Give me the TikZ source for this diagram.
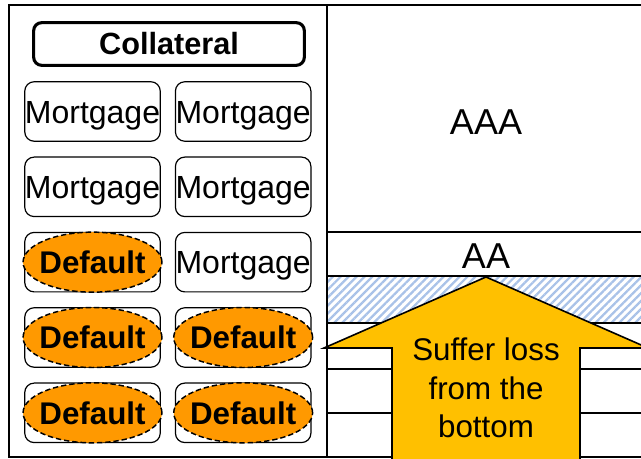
\documentclass[tikz,border=0pt]{standalone}
\usepackage{fontspec}
\setmainfont{Liberation Sans}
\usetikzlibrary{positioning,shapes.geometric,patterns.meta}

\definecolor{defaultorange}{HTML}{FF9900}
\definecolor{arrowgold}{HTML}{FFC000}
\definecolor{hatchblue}{HTML}{A9C2E8}

\begin{document}
\begin{tikzpicture}[x=0.75pt, y=0.75pt, node distance=11pt and 10.5pt,
  mort/.style={draw, line width=0.9pt, rounded corners=7pt, minimum width=101.6pt,
    minimum height=44.6pt, inner sep=0pt, text height=22.4pt, text depth=5pt,
    font=\fontsize{24}{28}\selectfont},
  loan/.style={draw, line width=0.9pt, rounded corners=7pt, minimum width=101.6pt,
    minimum height=44.6pt, inner sep=0pt},
  dflt/.style={ellipse, draw, dash pattern=on 4pt off 2.2pt, line width=1.1pt,
    fill=defaultorange, minimum width=102.5pt, minimum height=45pt,
    inner xsep=-3pt, inner ysep=0pt, font=\bfseries\fontsize{23.5}{28}\selectfont},
  tranche/.style={font=\fontsize{27}{32}\selectfont}]
  \useasboundingbox (0,0) rectangle (641,459);
  \clip (0,0) rectangle (641,459);

  % collateral pool
  \draw[line width=1.1pt] (9,2) rectangle (327,454);
  \node[draw, line width=2.3pt, rounded corners=6pt, minimum width=203pt,
    minimum height=32pt, font=\bfseries\fontsize{23}{28}\selectfont] (coll)
    at (169,415) {Collateral};
  \node[mort] (m11) at (92.5,347.5) {Mortgage};
  \node[mort, right=of m11] (m12) {Mortgage};
  \node[mort, below=of m11] (m21) {Mortgage};
  \node[mort, below=of m12] (m22) {Mortgage};
  \node[loan, below=of m21] (m31) {};
  \node[mort, below=of m22] (m32) {Mortgage};
  \node[loan, below=of m31] (m41) {};
  \node[loan, below=of m32] (m42) {};
  \node[loan, below=of m41] (m51) {};
  \node[loan, below=of m42] (m52) {};
  % defaulted loans
  \node[dflt] (d31) at (m31) {Default};
  \node[dflt] (d41) at (m41) {Default};
  \node[dflt] (d42) at (m42) {Default};
  \node[dflt] (d51) at (m51) {Default};
  \node[dflt] (d52) at (m52) {Default};

  % tranches
  \fill[pattern={Lines[angle=45,distance=4.2pt,line width=1.7pt]},
    pattern color=hatchblue] (327,136) rectangle (641,183);
  \draw[line width=1.4pt] (327,454) -- (641,454) (327,2) -- (327,454)
    (327,227) -- (641,227) (327,183) -- (641,183) (327,136) -- (641,136)
    (327,90) -- (641,90) (327,46) -- (641,46) (327,2) -- (641,2);
  \node[tranche] (aaa) at (486,337) {AAA};
  \node[tranche] (aa) at (486,203) {AA};

  % loss arrow
  \draw[fill=arrowgold, line width=1.2pt] (392,-5) -- (392,111) -- (324,111)
    -- (486,182) -- (648,111) -- (580,111) -- (580,-5) -- cycle;
  \node[align=center, font=\fontsize{23.5}{29}\selectfont] (loss) at (486,71)
    {Suffer loss\\from the\\bottom};
\end{tikzpicture}
\end{document}
